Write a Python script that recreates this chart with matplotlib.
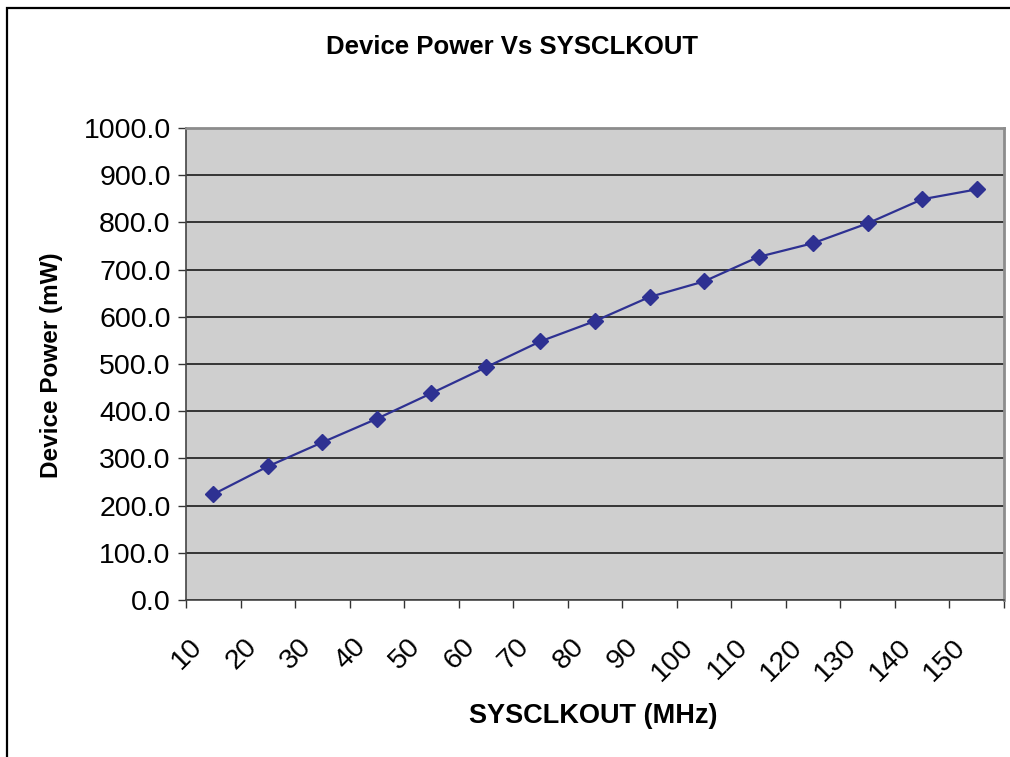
import numpy as np
import matplotlib
matplotlib.use("Agg")
import matplotlib.pyplot as plt
import matplotlib.transforms as mtransforms
from matplotlib.patches import Rectangle

# data
sysclkout_mhz = [10, 20, 30, 40, 50, 60, 70, 80, 90, 100, 110, 120, 130, 140, 150]
device_power_mw = [224, 283, 334, 384, 438, 493, 548, 591, 642, 675, 727, 756, 798, 849, 870]
y_ticks = [0, 100, 200, 300, 400, 500, 600, 700, 800, 900, 1000]

plt.rcParams['font.family'] = ['Liberation Sans', 'DejaVu Sans']

fig = plt.figure(figsize=(10.10, 7.57), dpi=100)
ax = fig.add_axes([186/1010, 1-600/757, (1004-186)/1010, (600-128)/757])

# outer chart frame (runs off the right and bottom edges)
fig.patches.append(Rectangle((7/1010, -0.2), 1.2, 1.2 - 8/757,
                             transform=fig.transFigure, fill=False,
                             edgecolor='black', linewidth=1.6, clip_on=False))

pos = np.arange(len(sysclkout_mhz))
ax.set_facecolor('#CFCFCF')
ax.plot(pos, device_power_mw, color='#2E3192', linewidth=1.6,
        marker='D', markersize=8, markerfacecolor='#2E3192',
        markeredgecolor='#2E3192', zorder=3)

ax.set_xlim(-0.5, len(sysclkout_mhz) - 0.5)
ax.set_ylim(0, 1000)

# category axis: ticks between categories, labels at category centres
ax.set_xticks(np.arange(len(sysclkout_mhz) + 1) - 0.5)
ax.set_xticklabels([])
ax.set_xticks(pos, minor=True)
ax.set_xticklabels([str(v) for v in sysclkout_mhz], minor=True,
                   rotation=45, ha='right', va='center',
                   rotation_mode='anchor', fontsize=20.5)
ax.tick_params(axis='x', which='major', direction='out', length=6,
               width=1, color='#333333')
ax.tick_params(axis='x', which='minor', length=0, pad=31)
offset = mtransforms.ScaledTranslation(-15/100, 0, fig.dpi_scale_trans)
for lab in ax.get_xticklabels(minor=True):
    lab.set_transform(lab.get_transform() + offset)

ax.set_yticks(y_ticks)
ax.set_yticklabels(['%.1f' % v for v in y_ticks], fontsize=20.5)
ax.tick_params(axis='y', direction='out', length=6, width=1,
               color='#333333', pad=5)

ax.grid(axis='y', color='#1A1A1A', linewidth=1.2)
ax.set_axisbelow(True)

for side in ['top', 'right']:
    ax.spines[side].set_color('#8C8C8C')
    ax.spines[side].set_linewidth(2)
for side in ['left', 'bottom']:
    ax.spines[side].set_color('#444444')
    ax.spines[side].set_linewidth(1.2)

fig.text(512/1010, 1-47/757, 'Device Power Vs SYSCLKOUT', ha='center',
         va='center', fontsize=18.5, fontweight='bold')
fig.text(593/1010, 1-716/757, 'SYSCLKOUT (MHz)', ha='center',
         va='center', fontsize=19.5, fontweight='bold')
fig.text(52/1010, 1-365/757, 'Device Power (mW)', ha='center',
         va='center', rotation=90, fontsize=17.5, fontweight='bold')

fig.savefig('out.png', dpi=100)
